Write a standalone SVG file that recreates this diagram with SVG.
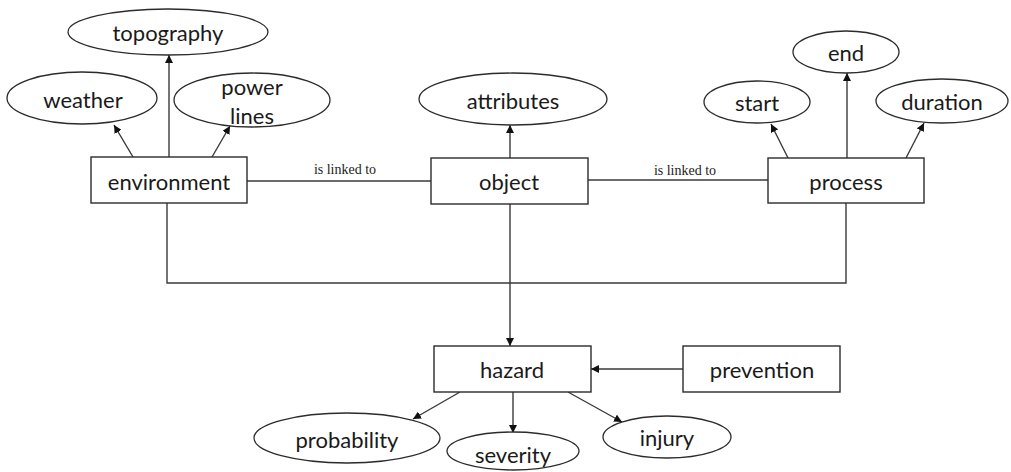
<svg xmlns="http://www.w3.org/2000/svg" width="1011" height="472" viewBox="0 0 1011 472">
<style>
.box{fill:#fff;stroke:#2b2b2b;stroke-width:1.4}
.ell{fill:#fff;stroke:#2b2b2b;stroke-width:1.3}
.lbl{font-family:Lato,"Liberation Sans",sans-serif;font-size:22px;fill:#1a1a1a;text-anchor:middle;dominant-baseline:central}
.edge{fill:none;stroke:#3a3a3a;stroke-width:1.4}
.arr{marker-end:url(#ah)}
.el{font-family:"Liberation Serif",serif;font-size:14px;fill:#222;text-anchor:middle}
</style>
<defs>
<marker id="ah" viewBox="0 0 10 10" refX="10" refY="5" markerWidth="8" markerHeight="8" markerUnits="userSpaceOnUse" orient="auto">
<path d="M0,0 L10,5 L0,10 z" fill="#111"/>
</marker>
</defs>
<rect width="1011" height="472" fill="#fff"/>
<g id="connectors">
<line class="edge arr" x1="169" y1="157" x2="169" y2="55"/>
<line class="edge arr" x1="133" y1="157" x2="114" y2="125"/>
<line class="edge arr" x1="212" y1="157" x2="230" y2="126"/>
<line class="edge arr" x1="510" y1="158" x2="510" y2="125"/>
<line class="edge arr" x1="847" y1="158" x2="847" y2="73"/>
<line class="edge arr" x1="788" y1="158" x2="771" y2="124"/>
<line class="edge arr" x1="906" y1="158" x2="924" y2="123"/>
<line class="edge" x1="247" y1="181" x2="432" y2="181"/>
<text class="el" x="345" y="174">is linked to</text>
<line class="edge" x1="588" y1="180" x2="768" y2="180"/>
<text class="el" x="685" y="175">is linked to</text>
<polyline class="edge" points="167,203 167,283 846,283 846,203"/>
<line class="edge arr" x1="510" y1="204" x2="510" y2="346"/>
<line class="edge arr" x1="683" y1="369" x2="591" y2="369"/>
<line class="edge arr" x1="460" y1="392" x2="413" y2="419"/>
<line class="edge arr" x1="513" y1="392" x2="513" y2="433"/>
<line class="edge arr" x1="568" y1="392" x2="622" y2="422"/>
</g>
<g id="topography"><ellipse class="ell" cx="168" cy="32" rx="100" ry="23"/><text class="lbl" x="168" y="32">topography</text></g>
<g id="weather"><ellipse class="ell" cx="82" cy="98" rx="75" ry="26"/><text class="lbl" x="83" y="99">weather</text></g>
<g id="power-lines"><ellipse class="ell" cx="252" cy="100" rx="78" ry="27"/><text class="lbl" x="252" y="86">power</text><text class="lbl" x="252" y="115">lines</text></g>
<g id="environment"><rect class="box" x="91" y="157" width="156" height="46"/><text class="lbl" x="169" y="181">environment</text></g>
<g id="attributes"><ellipse class="ell" cx="513" cy="99" rx="94" ry="26"/><text class="lbl" x="513" y="100">attributes</text></g>
<g id="object"><rect class="box" x="431" y="158" width="157" height="46"/><text class="lbl" x="509" y="181">object</text></g>
<g id="end"><ellipse class="ell" cx="846" cy="52" rx="53" ry="21"/><text class="lbl" x="846" y="52">end</text></g>
<g id="start"><ellipse class="ell" cx="757" cy="102" rx="53" ry="21"/><text class="lbl" x="757" y="102">start</text></g>
<g id="duration"><ellipse class="ell" cx="942" cy="101" rx="66" ry="22"/><text class="lbl" x="942" y="101">duration</text></g>
<g id="process"><rect class="box" x="768" y="158" width="156" height="45"/><text class="lbl" x="846" y="181">process</text></g>
<g id="hazard"><rect class="box" x="434" y="346" width="157" height="46"/><text class="lbl" x="512" y="369">hazard</text></g>
<g id="prevention"><rect class="box" x="683" y="346" width="157" height="46"/><text class="lbl" x="762" y="369">prevention</text></g>
<g id="probability"><ellipse class="ell" cx="347" cy="438" rx="93" ry="25"/><text class="lbl" x="347" y="439">probability</text></g>
<g id="severity"><ellipse class="ell" cx="513" cy="451" rx="66" ry="19"/><text class="lbl" x="513" y="454">severity</text></g>
<g id="injury"><ellipse class="ell" cx="667" cy="437" rx="64" ry="21"/><text class="lbl" x="667" y="437">injury</text></g>
</svg>
